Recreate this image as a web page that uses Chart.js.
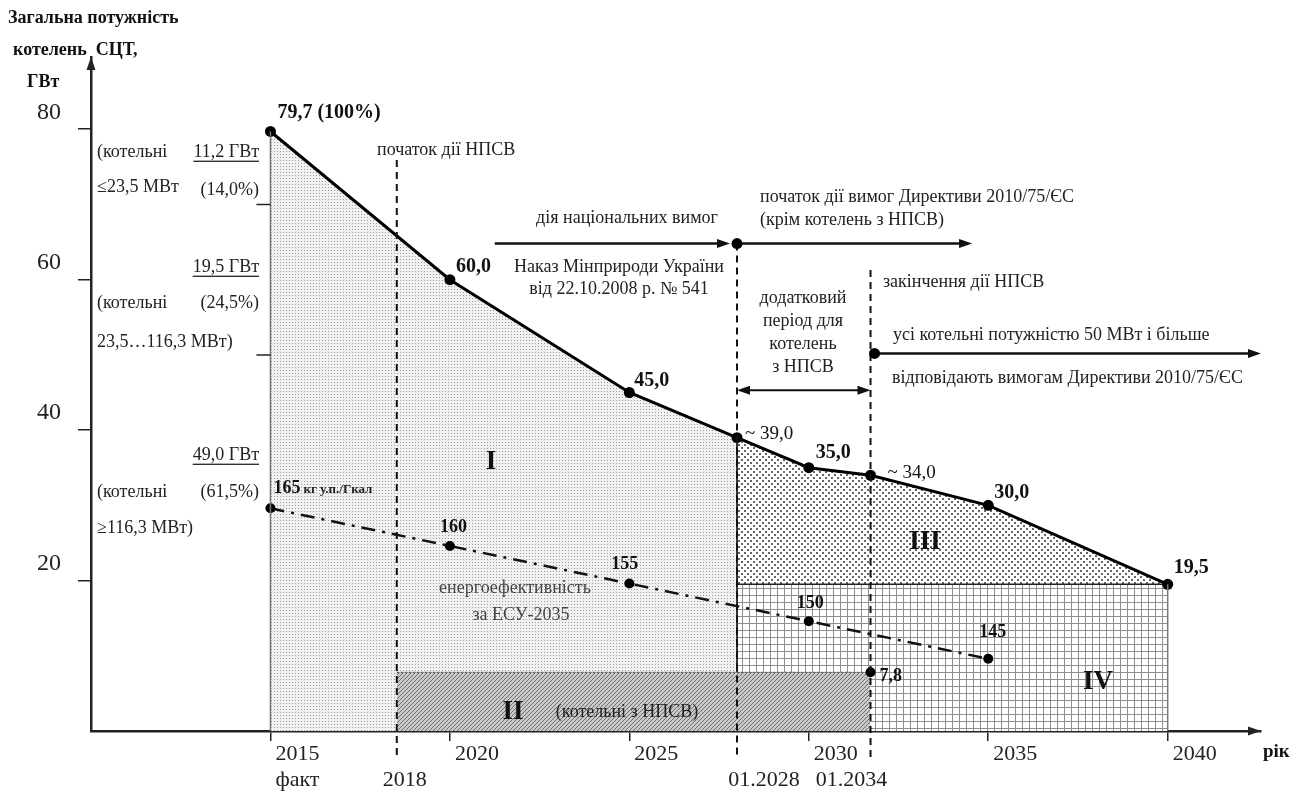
<!DOCTYPE html>
<html lang="uk">
<head>
<meta charset="utf-8">
<title>Загальна потужність котелень СЦТ</title>
<script src="https://cdn.jsdelivr.net/npm/chart.js@4.4.1/dist/chart.umd.min.js"></script>
<style>
    html, body { margin: 0; padding: 0; background: #fff; }
    #wrap { width: 1300px; height: 794px; }
</style>
</head>
<body>
<div id="wrap"><canvas id="boilerChart" width="1300" height="794"></canvas></div>
<script>
// Values. The year axis of the original is schematic:
// 01.2034 is drawn at about 2031.7 and the 2018 line at about 2018.5.
const years = [2015, 2020, 2025, 2028, 2030, 2031.72, 2035, 2040];
const capacity = [79.7, 60.0, 45.0, 39.0, 35.0, 34.0, 30.0, 19.5];
const capacityLabels = ['79,7 (100%)', '60,0', '45,0', '~ 39,0', '35,0', '~ 34,0', '30,0', '19,5'];
const capacityBold = [true, true, true, false, true, false, true, true];

const effYears = [2015, 2020, 2025, 2030, 2035];
const efficiency = [165, 160, 155, 150, 145];

const milestoneX = [2018.52, 2028, 2031.72];
const milestoneLabels = ['2018', '01.2028', '01.2034'];

const npsvCapacity = 7.8;      // region II (котельні з НПСВ)
const compliantFloor = 19.5;   // region IV top
const splitTicks = [70, 50];   // divisions on the 2015 column

const xTicks = [2015, 2020, 2025, 2030, 2035, 2040];
const yTicks = [20, 40, 60, 80];

const FONT = '"Liberation Serif", "Times New Roman", serif';

// fill patterns
function makePattern(size, paint) {
    const c = document.createElement('canvas');
    c.width = size; c.height = size;
    const g = c.getContext('2d');
    paint(g, size);
    return g.createPattern(c, 'repeat');
}
const dotsFine = makePattern(3, g => {
    g.fillStyle = '#f1f1f1'; g.fillRect(0, 0, 3, 3);
    g.fillStyle = '#9c9c9c'; g.fillRect(1, 1, 1, 1);
});
const dotsCoarse = makePattern(6, g => {
    g.fillStyle = '#fff'; g.fillRect(0, 0, 6, 6);
    g.fillStyle = '#666'; g.fillRect(0, 0, 2, 2); g.fillRect(3, 3, 2, 2);
});
const gridPat = makePattern(7, g => {
    g.fillStyle = '#fff'; g.fillRect(0, 0, 7, 7);
    g.fillStyle = '#8f8f8f'; g.fillRect(0, 0, 7, 1); g.fillRect(0, 0, 1, 7);
});
const hatchPat = makePattern(4, g => {
    g.fillStyle = '#c9c9c9'; g.fillRect(0, 0, 4, 4);
    g.fillStyle = '#707070';
    for (let i = 0; i < 4; i++) g.fillRect(i, 3 - i, 1, 1);
});

const mainPts = years.map((x, i) => ({ x: x, y: capacity[i] }));
const effPts = effYears.map((x, i) => ({ x: x, y: efficiency[i] }));

function txt(ctx, s, x, y, o) {
    o = o || {};
    const size = o.size || 18;
    ctx.font = (o.bold ? 'bold ' : '') + size + 'px ' + FONT;
    ctx.fillStyle = o.color || '#222';
    ctx.textAlign = o.align || 'left';
    ctx.textBaseline = 'middle';
    ctx.fillText(s, x, y);
    const w = ctx.measureText(s).width;
    if (o.underline) {
        const x0 = o.align === 'right' ? x - w : (o.align === 'center' ? x - w / 2 : x);
        ctx.fillRect(x0, y + size * 0.48, w, 1.3);
    }
    return w;
}

function head(ctx, x, y, ang) {
    const len = 13, half = 4.5;
    const c = Math.cos(ang), s = Math.sin(ang);
    ctx.beginPath();
    ctx.moveTo(x, y);
    ctx.lineTo(x - len * c + half * s, y - len * s - half * c);
    ctx.lineTo(x - len * c - half * s, y - len * s + half * c);
    ctx.closePath();
    ctx.fill();
}

function arrow(ctx, x1, y1, x2, y2, width, both) {
    const ang = Math.atan2(y2 - y1, x2 - x1);
    ctx.save();
    ctx.strokeStyle = '#111'; ctx.fillStyle = '#111';
    ctx.lineWidth = width; ctx.setLineDash([]);
    ctx.beginPath();
    ctx.moveTo(x1 + (both ? 6 * Math.cos(ang) : 0), y1);
    ctx.lineTo(x2 - 6 * Math.cos(ang), y2 - 6 * Math.sin(ang));
    ctx.stroke();
    head(ctx, x2, y2, ang);
    if (both) head(ctx, x1, y1, ang + Math.PI);
    ctx.restore();
}

function dot(ctx, x, y, r) {
    ctx.beginPath();
    ctx.arc(x, y, r, 0, Math.PI * 2);
    ctx.fillStyle = '#000';
    ctx.fill();
}

const overlay = {
    id: 'overlay',
    afterDatasetsDraw(chart) {
        const { ctx, chartArea: a, scales: { x, y, y2 } } = chart;
        const X = v => x.getPixelForValue(v);
        const Y = v => y.getPixelForValue(v);
        ctx.save();

        // region edges
        ctx.lineWidth = 1.5; ctx.strokeStyle = '#777';
        ctx.beginPath();
        ctx.moveTo(X(years[0]), Y(capacity[0])); ctx.lineTo(X(years[0]), Y(0));
        ctx.moveTo(X(2040), Y(compliantFloor)); ctx.lineTo(X(2040), Y(0));
        ctx.stroke();
        ctx.lineWidth = 2; ctx.strokeStyle = '#333';
        ctx.beginPath();
        ctx.moveTo(X(2028), Y(39.0)); ctx.lineTo(X(2028), Y(npsvCapacity));
        ctx.stroke();

        // split ticks on the 2015 column
        ctx.lineWidth = 1.5; ctx.strokeStyle = '#222';
        ctx.beginPath();
        splitTicks.forEach(v => {
            ctx.moveTo(X(2015) - 14, Y(v)); ctx.lineTo(X(2015), Y(v));
        });
        ctx.stroke();

        // milestone dashed lines
        const milestoneTop = [75.9, 64.8, 61.3];
        ctx.lineWidth = 2; ctx.strokeStyle = '#111'; ctx.setLineDash([7, 5]);
        milestoneX.forEach((m, i) => {
            ctx.beginPath();
            ctx.moveTo(X(m), Y(milestoneTop[i]));
            ctx.lineTo(X(m), a.bottom + 26);
            ctx.stroke();
        });
        ctx.setLineDash([]);

        // arrows
        arrow(ctx, X(2021.25), Y(64.8), X(2028) - 7, Y(64.8), 2.5, false);
        arrow(ctx, X(2028), Y(64.8), X(2034.55), Y(64.8), 2.5, false);
        arrow(ctx, X(2028), Y(45.3), X(2031.72), Y(45.3), 2, true);
        arrow(ctx, X(2031.72), Y(50.2), X(2042.6), Y(50.2), 2.5, false);
        dot(ctx, X(2028), Y(64.8), 5.5);
        dot(ctx, X(2031.72) + 4, Y(50.2), 5.5);

        // axis arrow heads
        ctx.fillStyle = '#222';
        head(ctx, a.left, a.top, -Math.PI / 2);
        head(ctx, a.right, a.bottom, 0);

        // labels of the capacity line
        const capOff = [[7, -19], [6, -13], [5, -12], [8, -4], [7, -15], [17, -2], [6, -13], [6, -16]];
        mainPts.forEach((p, i) => {
            txt(ctx, capacityLabels[i], X(p.x) + capOff[i][0], Y(p.y) + capOff[i][1],
                { bold: capacityBold[i], size: capacityBold[i] ? 20 : 19, color: '#111' });
        });
        txt(ctx, '7,8', X(2031.72) + 9, Y(npsvCapacity) + 4, { bold: true, size: 18, color: '#111' });

        // labels of the efficiency line
        const effOff = [[3, -20], [-10, -19], [-18, -19], [-12, -18], [-9, -26]];
        effPts.forEach((p, i) => {
            const px = X(p.x) + effOff[i][0], py = y2.getPixelForValue(p.y) + effOff[i][1];
            const w = txt(ctx, String(p.y), px, py, { bold: true, size: 18, color: '#111' });
            if (i === 0) txt(ctx, 'кг у.п./Гкал', px + w + 3, py + 1, { bold: true, size: 13, color: '#222' });
        });
        txt(ctx, 'енергоефективність', 515, 588, { align: 'center', color: '#444' });
        txt(ctx, 'за ЕСУ-2035', 521, 615, { align: 'center', color: '#444' });

        // axis titles
        txt(ctx, 'Загальна потужність', 8, 18, { bold: true, size: 18, color: '#111' });
        txt(ctx, 'котелень  СЦТ,', 13, 50, { bold: true, size: 18, color: '#111' });
        txt(ctx, 'ГВт', 27, 82, { bold: true, size: 18, color: '#111' });
        txt(ctx, 'рік', 1263, 752, { bold: true, size: 19, color: '#111' });

        // second row under the year axis
        txt(ctx, 'факт', X(2015) + 5, 780, { size: 22 });
        const msDx = [8, 27, -19];
        milestoneX.forEach((m, i) => {
            txt(ctx, milestoneLabels[i], X(m) + msDx[i], 780, { size: 22, align: 'center' });
        });

        // breakdown of the 2015 capacity
        txt(ctx, '(котельні', 97, 152);
        txt(ctx, '11,2 ГВт', 259, 152, { align: 'right', underline: true });
        txt(ctx, '≤23,5 МВт', 97, 187);
        txt(ctx, '(14,0%)', 259, 190, { align: 'right' });
        txt(ctx, '19,5 ГВт', 259, 267, { align: 'right', underline: true });
        txt(ctx, '(котельні', 97, 303);
        txt(ctx, '(24,5%)', 259, 303, { align: 'right' });
        txt(ctx, '23,5…116,3 МВт)', 97, 342);
        txt(ctx, '49,0 ГВт', 259, 455, { align: 'right', underline: true });
        txt(ctx, '(котельні', 97, 492);
        txt(ctx, '(61,5%)', 259, 492, { align: 'right' });
        txt(ctx, '≥116,3 МВт)', 97, 528);

        // regulation notes
        txt(ctx, 'початок дії НПСВ', 377, 150);
        txt(ctx, 'дія національних вимог', 627, 218, { align: 'center' });
        txt(ctx, 'Наказ Мінприроди України', 619, 267, { align: 'center' });
        txt(ctx, 'від 22.10.2008 р. № 541', 619, 289, { align: 'center' });
        txt(ctx, 'початок дії вимог Директиви 2010/75/ЄС', 760, 197);
        txt(ctx, '(крім котелень з НПСВ)', 760, 220);
        txt(ctx, 'закінчення дії НПСВ', 883, 282);
        ['додатковий', 'період для', 'котелень', 'з НПСВ'].forEach((s, i) => {
            txt(ctx, s, 803, 298 + i * 23, { align: 'center' });
        });
        txt(ctx, 'усі котельні потужністю 50 МВт і більше', 893, 335);
        txt(ctx, 'відповідають вимогам Директиви 2010/75/ЄС', 892, 378);

        // region names
        txt(ctx, 'I', 491, 462, { bold: true, size: 27, align: 'center', color: '#111' });
        txt(ctx, 'II', 513, 712, { bold: true, size: 27, align: 'center', color: '#111' });
        txt(ctx, '(котельні з НПСВ)', 627, 712, { align: 'center' });
        txt(ctx, 'III', 925, 542, { bold: true, size: 27, align: 'center', color: '#111' });
        txt(ctx, 'IV', 1098, 682, { bold: true, size: 27, align: 'center', color: '#111' });

        ctx.restore();
    }
};

const ctx = document.getElementById('boilerChart');
new Chart(ctx, {
    type: 'line',
    data: {
        datasets: [
            {
                // total capacity
                data: mainPts,
                borderColor: '#000',
                borderWidth: 3,
                pointRadius: 5.5,
                pointBackgroundColor: '#000',
                pointBorderWidth: 0,
                fill: false,
                tension: 0,
                order: 0
            },
            {
                // energy efficiency, kg у.п./Гкал
                data: effPts,
                yAxisID: 'y2',
                borderColor: '#111',
                borderWidth: 2.5,
                borderDash: [14, 7, 3, 7],
                pointRadius: 5,
                pointBackgroundColor: '#000',
                pointBorderWidth: 0,
                fill: false,
                order: 1
            },
            {
                // region II
                data: [{ x: milestoneX[0], y: npsvCapacity }, { x: milestoneX[2], y: npsvCapacity }],
                borderColor: '#555',
                borderWidth: 1.2,
                borderDash: [2, 2],
                pointRadius: [0, 5],
                pointBackgroundColor: '#000',
                pointBorderWidth: 0,
                backgroundColor: hatchPat,
                fill: 'origin',
                order: 2
            },
            {
                // region IV
                data: [{ x: 2028, y: compliantFloor }, { x: 2040, y: compliantFloor }],
                borderColor: '#222',
                borderWidth: 1.5,
                pointRadius: 0,
                backgroundColor: gridPat,
                fill: 'origin',
                order: 3
            },
            {
                // region III
                data: mainPts.filter(p => p.x >= 2028),
                borderWidth: 0,
                pointRadius: 0,
                backgroundColor: dotsCoarse,
                fill: { value: compliantFloor },
                order: 4
            },
            {
                // region I
                data: mainPts.filter(p => p.x <= 2028),
                borderWidth: 0,
                pointRadius: 0,
                backgroundColor: dotsFine,
                fill: 'origin',
                order: 5
            }
        ]
    },
    options: {
        responsive: false,
        animation: false,
        layout: { padding: { top: 57, right: 39, left: 0, bottom: 0 } },
        plugins: {
            legend: { display: false },
            tooltip: { enabled: false }
        },
        scales: {
            x: {
                type: 'linear',
                min: 2010,
                max: 2042.6,
                afterFit: s => { s.height = 63; },
                afterBuildTicks: s => { s.ticks = xTicks.map(v => ({ value: v })); },
                grid: { drawOnChartArea: false, color: '#222', lineWidth: 1.5, tickLength: 10 },
                border: { color: '#222', width: 2.5 },
                ticks: {
                    callback: v => String(v),
                    align: 'start',
                    labelOffset: 5,
                    padding: 0,
                    maxRotation: 0,
                    autoSkip: false,
                    color: '#222',
                    font: { family: FONT, size: 22 }
                }
            },
            y: {
                min: 0,
                max: 89.6,
                afterFit: s => { s.width = 91; },
                afterBuildTicks: s => { s.ticks = yTicks.map(v => ({ value: v })); },
                grid: { drawOnChartArea: false, color: '#222', lineWidth: 1.5, tickLength: 13 },
                border: { color: '#222', width: 2.5 },
                ticks: {
                    callback: v => String(v),
                    padding: 17,
                    labelOffset: -17,
                    color: '#222',
                    font: { family: FONT, size: 24 }
                }
            },
            y2: {
                display: false,
                min: 135.4,
                max: 135.4 + 89.6
            }
        }
    },
    plugins: [overlay]
});
</script>
</body>
</html>
